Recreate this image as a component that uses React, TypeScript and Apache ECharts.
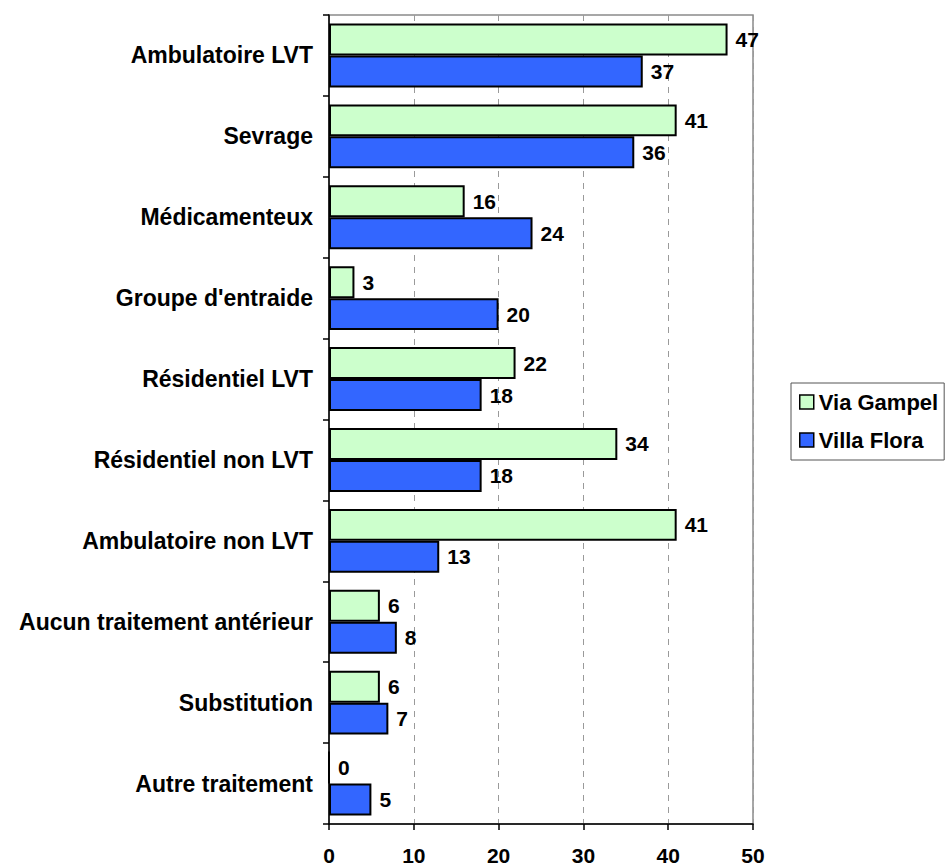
import React, { useEffect, useRef } from "react";
import * as echarts from "echarts";

const categories = [
  "Ambulatoire LVT",
  "Sevrage",
  "Médicamenteux",
  "Groupe d'entraide",
  "Résidentiel LVT",
  "Résidentiel non LVT",
  "Ambulatoire non LVT",
  "Aucun traitement antérieur",
  "Substitution",
  "Autre traitement",
];
const viaGampel = [47, 41, 16, 3, 22, 34, 41, 6, 6, 0];
const villaFlora = [37, 36, 24, 20, 18, 18, 13, 8, 7, 5];
const xTicks = [0, 10, 20, 30, 40, 50];

const FONT = "'Liberation Sans', Arial, sans-serif";

export default function App() {
  const ref = useRef<HTMLDivElement>(null);
  useEffect(() => {
    if (!ref.current) return;
    const chart = echarts.init(ref.current, undefined, { renderer: "svg" });
    const labelStyle = {
      show: true,
      position: "right" as const,
      distance: 8,
      color: "#000",
      fontWeight: "bold" as const,
      fontSize: 21,
      fontFamily: FONT,
    };
    chart.setOption({
      animation: false,
      backgroundColor: "#fff",
      textStyle: { fontFamily: FONT },
      grid: {
        left: 329,
        top: 15,
        right: 193,
        bottom: 40,
        containLabel: false,
        show: true,
        borderColor: "#8a8a8a",
        borderWidth: 1.5,
      },
      legend: {
        orient: "vertical",
        left: 791,
        top: 383,
        data: ["Via Gampel", "Villa Flora"],
        borderColor: "#555",
        borderWidth: 1,
        padding: [8, 6, 9, 8],
        itemWidth: 14,
        itemHeight: 14,
        itemGap: 16,
        icon: "rect",
        itemStyle: { borderColor: "#000", borderWidth: 1.5 },
        textStyle: {
          fontSize: 22,
          fontWeight: "bold",
          color: "#000",
          fontFamily: FONT,
        },
      },
      xAxis: {
        type: "value",
        min: xTicks[0],
        max: xTicks[xTicks.length - 1],
        interval: 10,
        axisLine: { show: true, lineStyle: { color: "#000", width: 1.5 } },
        axisTick: { show: true, length: 6, lineStyle: { color: "#000", width: 1.5 } },
        axisLabel: {
          color: "#000",
          fontWeight: "bold",
          fontSize: 21,
          fontFamily: FONT,
          margin: 21,
        },
        splitLine: {
          show: true,
          lineStyle: { color: "#9a9a9a", type: [6, 6], width: 1 },
        },
      },
      yAxis: {
        type: "category",
        inverse: true,
        data: categories,
        axisLine: { show: true, lineStyle: { color: "#000", width: 1.5 } },
        axisTick: { show: true, length: 6, inside: false, lineStyle: { color: "#000", width: 1.5 } },
        axisLabel: {
          color: "#000",
          fontWeight: "bold",
          fontSize: 23,
          fontFamily: FONT,
          margin: 16,
        },
        splitLine: { show: false },
      },
      series: [
        {
          name: "Via Gampel",
          type: "bar",
          data: viaGampel,
          barGap: "0%",
          barCategoryGap: "21%",
          itemStyle: { color: "#CCFFCC", borderColor: "#000", borderWidth: 2 },
          label: labelStyle,
        },
        {
          name: "Villa Flora",
          type: "bar",
          data: villaFlora,
          barGap: "0%",
          barCategoryGap: "21%",
          itemStyle: { color: "#3366FF", borderColor: "#000", borderWidth: 2 },
          label: labelStyle,
        },
      ],
    });
    return () => chart.dispose();
  }, []);
  return (
    <div
      ref={ref}
      style={{ position: "absolute", left: 0, top: 0, width: 946, height: 866 }}
    />
  );
}
